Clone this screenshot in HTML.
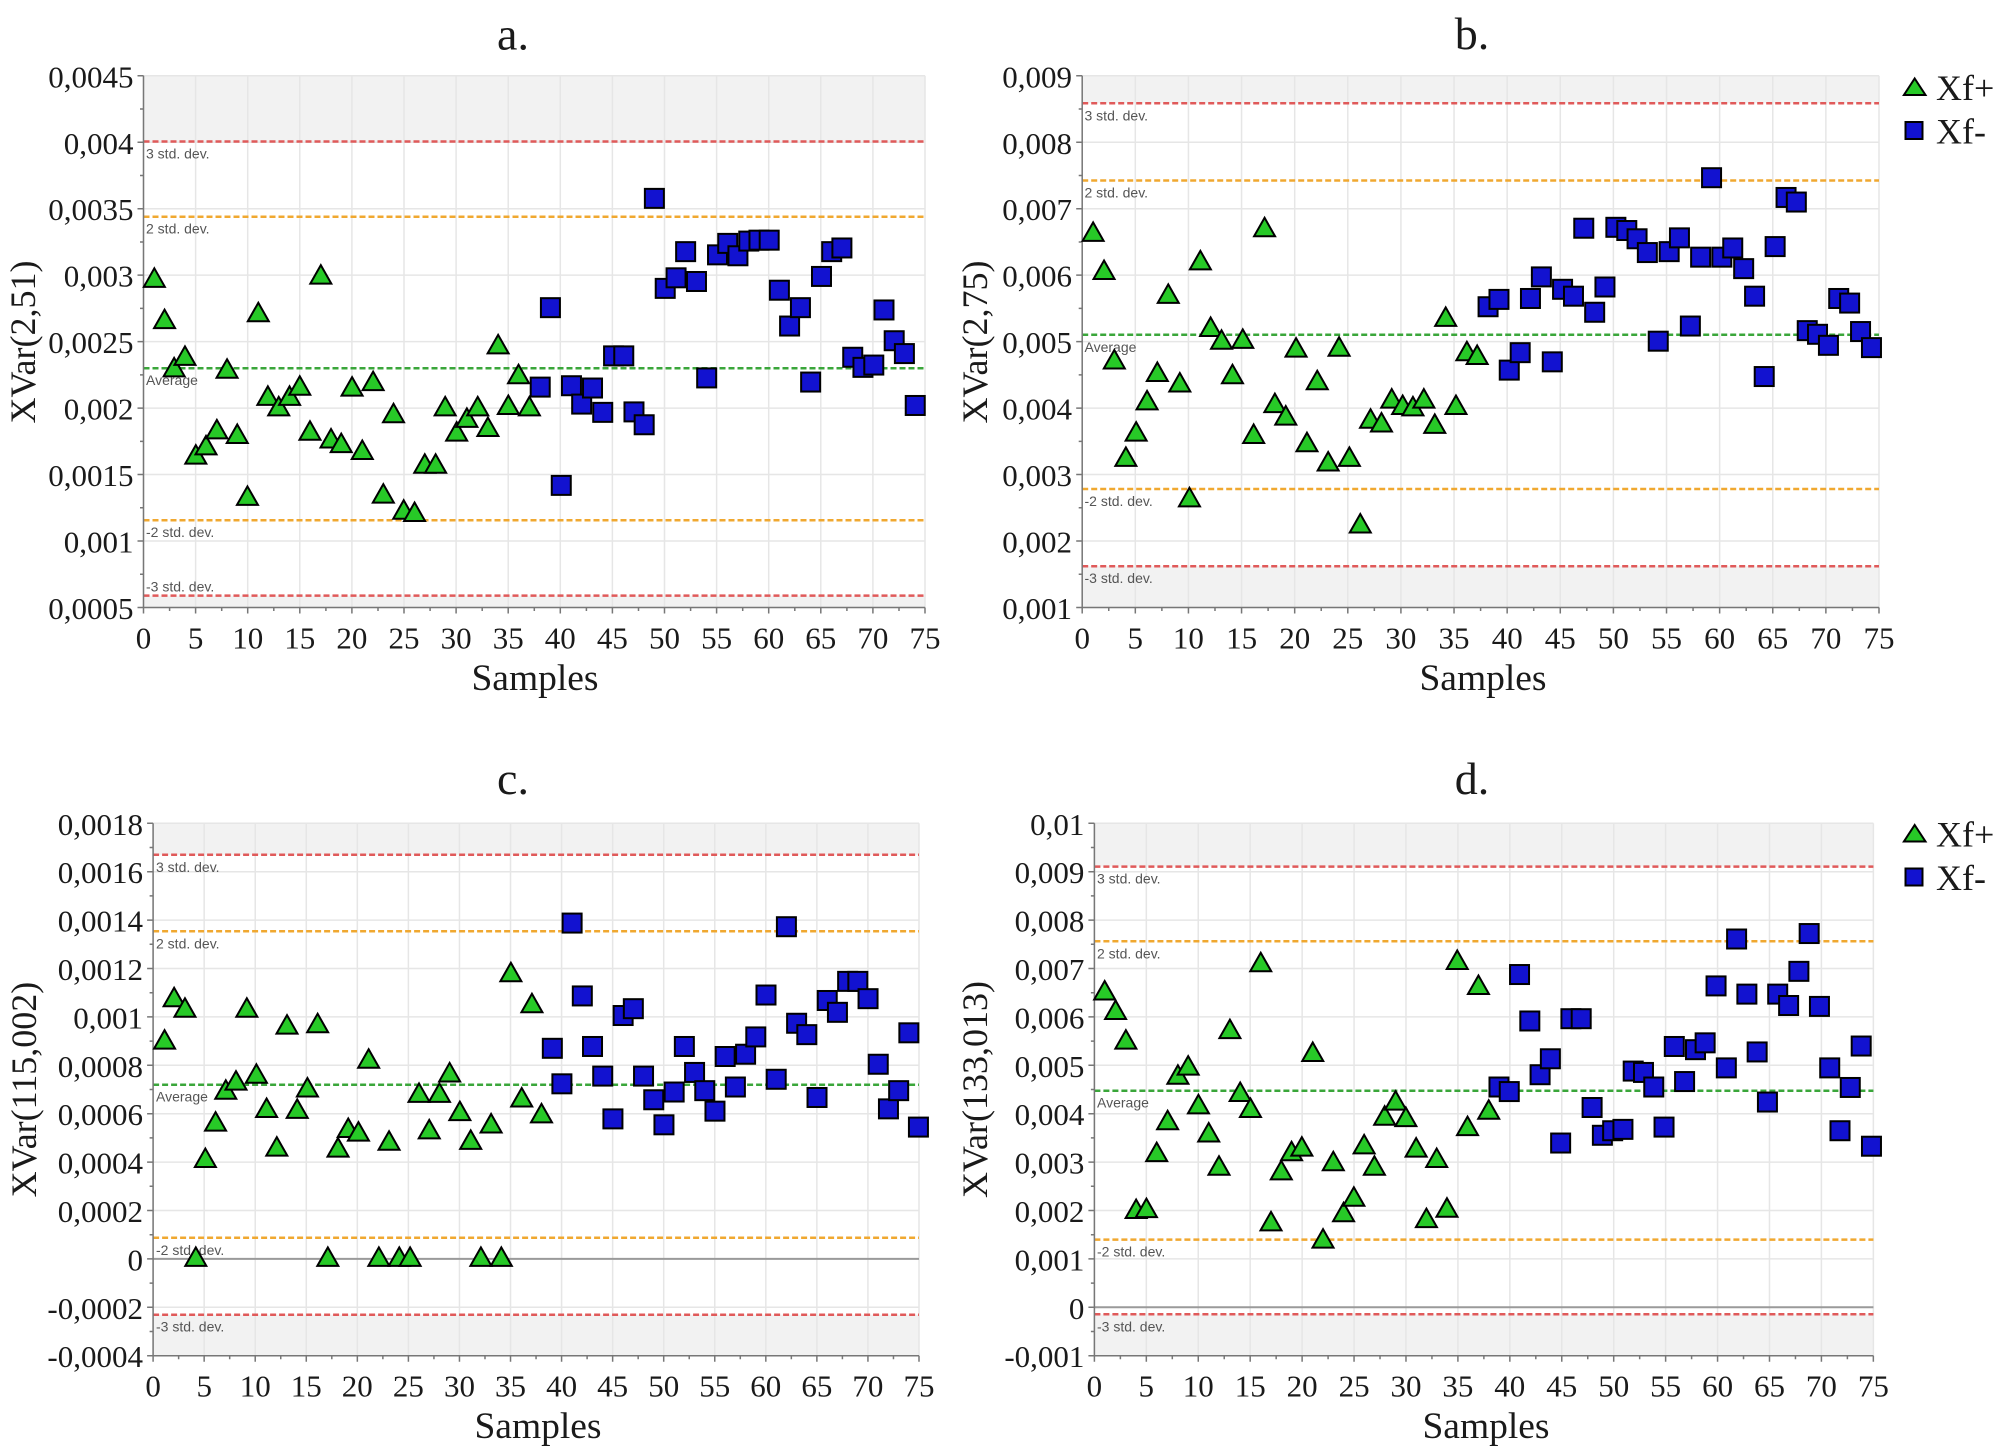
<!DOCTYPE html>
<html><head><meta charset="utf-8">
<style>
html,body{margin:0;padding:0;background:#fff;}
svg{display:block;}
.t{font-family:"Liberation Serif",serif;fill:#1a1a1a;}
.tk{font-size:31px;}
.tl{font-size:46px;}
.sm{font-size:37.5px;}
.yl{font-size:36px;}
.lg{font-size:36px;}
.sd{font-family:"Liberation Sans",sans-serif;font-size:14px;fill:#555;}
</style></head>
<body>
<svg width="2007" height="1454" viewBox="0 0 2007 1454" xmlns="http://www.w3.org/2000/svg">
<defs>
<marker id="ta" markerUnits="userSpaceOnUse" viewBox="0 0 24 24" refX="12" refY="12" markerWidth="37.63" markerHeight="52.26" preserveAspectRatio="none" overflow="visible"><path d="M12 2.5 L22.5 21 L1.5 21 Z" fill="#27c927" stroke="#000" stroke-width="2"/></marker>
<marker id="sa" markerUnits="userSpaceOnUse" viewBox="0 0 24 24" refX="12" refY="12" markerWidth="37.63" markerHeight="52.26" preserveAspectRatio="none" overflow="visible"><rect x="2.5" y="2.5" width="19" height="19" fill="#1212d0" stroke="#000" stroke-width="2"/></marker>
<marker id="tb" markerUnits="userSpaceOnUse" viewBox="0 0 24 24" refX="12" refY="12" markerWidth="37.37" markerHeight="52.26" preserveAspectRatio="none" overflow="visible"><path d="M12 2.5 L22.5 21 L1.5 21 Z" fill="#27c927" stroke="#000" stroke-width="2"/></marker>
<marker id="sb" markerUnits="userSpaceOnUse" viewBox="0 0 24 24" refX="12" refY="12" markerWidth="37.37" markerHeight="52.26" preserveAspectRatio="none" overflow="visible"><rect x="2.5" y="2.5" width="19" height="19" fill="#1212d0" stroke="#000" stroke-width="2"/></marker>
<marker id="tc" markerUnits="userSpaceOnUse" viewBox="0 0 24 24" refX="12" refY="12" markerWidth="37.63" markerHeight="52.70" preserveAspectRatio="none" overflow="visible"><path d="M12 2.5 L22.5 21 L1.5 21 Z" fill="#27c927" stroke="#000" stroke-width="2"/></marker>
<marker id="sc" markerUnits="userSpaceOnUse" viewBox="0 0 24 24" refX="12" refY="12" markerWidth="37.63" markerHeight="52.70" preserveAspectRatio="none" overflow="visible"><rect x="2.5" y="2.5" width="19" height="19" fill="#1212d0" stroke="#000" stroke-width="2"/></marker>
<marker id="td" markerUnits="userSpaceOnUse" viewBox="0 0 24 24" refX="12" refY="12" markerWidth="37.37" markerHeight="52.70" preserveAspectRatio="none" overflow="visible"><path d="M12 2.5 L22.5 21 L1.5 21 Z" fill="#27c927" stroke="#000" stroke-width="2"/></marker>
<marker id="sdm" markerUnits="userSpaceOnUse" viewBox="0 0 24 24" refX="12" refY="12" markerWidth="37.37" markerHeight="52.70" preserveAspectRatio="none" overflow="visible"><rect x="2.5" y="2.5" width="19" height="19" fill="#1212d0" stroke="#000" stroke-width="2"/></marker>
</defs>

<!-- ================= PANEL A ================= -->
<g>
<rect x="143.5" y="75.8" width="781.5" height="65.7" fill="#f2f2f2"/>
<rect x="143.5" y="595.6" width="781.5" height="11.9" fill="#f2f2f2"/>
<line x1="142.75" y1="341.65" x2="925.75" y2="341.65" stroke="#e6e6e6" stroke-width="531.7" stroke-dasharray="1.5 50.6"/>
<line x1="534.25" y1="75.05" x2="534.25" y2="608.3" stroke="#e6e6e6" stroke-width="781.5" stroke-dasharray="1.5 64.96"/>
<g stroke-width="2.5" stroke-dasharray="6 3">
<line x1="143.5" y1="141.5" x2="925" y2="141.5" stroke="#e05a5a"/>
<line x1="143.5" y1="216.7" x2="925" y2="216.7" stroke="#f0a830"/>
<line x1="143.5" y1="368.3" x2="925" y2="368.3" stroke="#3aa63a"/>
<line x1="143.5" y1="520.3" x2="925" y2="520.3" stroke="#f0a830"/>
<line x1="143.5" y1="595.6" x2="925" y2="595.6" stroke="#e05a5a"/>
</g>
<text class="sd" x="146" y="158.5">3 std. dev.</text>
<text class="sd" x="146" y="233.7">2 std. dev.</text>
<text class="sd" x="146" y="385">Average</text>
<text class="sd" x="146" y="537">-2 std. dev.</text>
<text class="sd" x="146" y="591.5">-3 std. dev.</text>
<line x1="143.5" y1="75.8" x2="143.5" y2="607.5" stroke="#777" stroke-width="1.5"/>
<line x1="143.5" y1="607.5" x2="925" y2="607.5" stroke="#777" stroke-width="1.5"/>
<line x1="142.75" y1="610.5" x2="926" y2="610.5" stroke="#777" stroke-width="6" stroke-dasharray="1.5 50.6"/>
<line x1="168.85" y1="609.25" x2="900" y2="609.25" stroke="#777" stroke-width="3.5" stroke-dasharray="1.5 50.6"/>
<line x1="140.5" y1="75.05" x2="140.5" y2="608.3" stroke="#777" stroke-width="6" stroke-dasharray="1.5 64.96"/>
<line x1="141.75" y1="108.28" x2="141.75" y2="576" stroke="#777" stroke-width="3.5" stroke-dasharray="1.5 64.96"/>
<g class="t tk" text-anchor="end">
<text x="133.5" y="87.3">0,0045</text>
<text x="133.5" y="153.8">0,004</text>
<text x="133.5" y="220.2">0,0035</text>
<text x="133.5" y="286.7">0,003</text>
<text x="133.5" y="353.1">0,0025</text>
<text x="133.5" y="419.6">0,002</text>
<text x="133.5" y="486.1">0,0015</text>
<text x="133.5" y="552.5">0,001</text>
<text x="133.5" y="619">0,0005</text>
</g>
<g class="t tk" text-anchor="middle">
<text x="143.5" y="648.3">0</text>
<text x="195.6" y="648.3">5</text>
<text x="247.7" y="648.3">10</text>
<text x="299.8" y="648.3">15</text>
<text x="351.9" y="648.3">20</text>
<text x="404" y="648.3">25</text>
<text x="456.1" y="648.3">30</text>
<text x="508.2" y="648.3">35</text>
<text x="560.3" y="648.3">40</text>
<text x="612.4" y="648.3">45</text>
<text x="664.5" y="648.3">50</text>
<text x="716.6" y="648.3">55</text>
<text x="768.7" y="648.3">60</text>
<text x="820.8" y="648.3">65</text>
<text x="872.9" y="648.3">70</text>
<text x="925" y="648.3">75</text>
</g>
<text class="t tl" x="513" y="49.6" text-anchor="middle">a.</text>
<text class="t sm" x="535" y="690" text-anchor="middle">Samples</text>
<text class="t yl" transform="translate(35,342) rotate(-90)" text-anchor="middle">XVar(2,51)</text>
<g transform="scale(0.6378,0.4592)">
<polyline fill="none" stroke="none" marker-start="url(#ta)" marker-mid="url(#ta)" marker-end="url(#ta)" points="242,605 258,695 273,800 290,775 307,990 323,970 340,935 356,803 372,945 388,1080 405,680 420,862 437,885 454,862 470,840 486,938 503,598 519,955 535,965 552,842 568,980 585,830 601,1075 617,900 633,1110 650,1115 666,1010 683,1010 698,885 716,940 732,910 749,885 765,930 781,750 797,882 813,815 830,885"/>
<polyline fill="none" stroke="none" marker-start="url(#sa)" marker-mid="url(#sa)" marker-end="url(#sa)" points="847,843 863,670 880,1057 896,840 912,880 929,845 945,898 962,775 978,775 994,897 1010,925 1026,432 1043,628 1060,605 1075,548 1092,613 1108,823 1125,555 1141,530 1157,557 1174,525 1190,523 1206,523 1222,632 1238,710 1255,670 1271,832 1288,602 1304,548 1320,540 1337,778 1353,800 1370,795 1386,675 1402,742 1418,770 1435,883"/>
</g>
</g>

<!-- ================= PANEL B ================= -->
<g>
<rect x="1082.2" y="75.8" width="796.8" height="27.5" fill="#f2f2f2"/>
<rect x="1082.2" y="566.2" width="796.8" height="41.3" fill="#f2f2f2"/>
<line x1="1081.45" y1="341.65" x2="1879.75" y2="341.65" stroke="#e6e6e6" stroke-width="531.7" stroke-dasharray="1.5 51.62"/>
<line x1="1480.6" y1="75.05" x2="1480.6" y2="608.3" stroke="#e6e6e6" stroke-width="796.8" stroke-dasharray="1.5 64.96"/>
<g stroke-width="2.5" stroke-dasharray="6 3">
<line x1="1082.2" y1="103.3" x2="1879" y2="103.3" stroke="#e05a5a"/>
<line x1="1082.2" y1="180.5" x2="1879" y2="180.5" stroke="#f0a830"/>
<line x1="1082.2" y1="334.8" x2="1879" y2="334.8" stroke="#3aa63a"/>
<line x1="1082.2" y1="489" x2="1879" y2="489" stroke="#f0a830"/>
<line x1="1082.2" y1="566.2" x2="1879" y2="566.2" stroke="#e05a5a"/>
</g>
<text class="sd" x="1084.5" y="120.3">3 std. dev.</text>
<text class="sd" x="1084.5" y="197.5">2 std. dev.</text>
<text class="sd" x="1084.5" y="351.8">Average</text>
<text class="sd" x="1084.5" y="506">-2 std. dev.</text>
<text class="sd" x="1084.5" y="583.2">-3 std. dev.</text>
<line x1="1082.2" y1="75.8" x2="1082.2" y2="607.5" stroke="#777" stroke-width="1.5"/>
<line x1="1082.2" y1="607.5" x2="1879" y2="607.5" stroke="#777" stroke-width="1.5"/>
<line x1="1081.45" y1="610.5" x2="1880" y2="610.5" stroke="#777" stroke-width="6" stroke-dasharray="1.5 51.62"/>
<line x1="1108" y1="609.25" x2="1855" y2="609.25" stroke="#777" stroke-width="3.5" stroke-dasharray="1.5 51.62"/>
<line x1="1079.2" y1="75.05" x2="1079.2" y2="608.3" stroke="#777" stroke-width="6" stroke-dasharray="1.5 64.96"/>
<line x1="1080.45" y1="108.28" x2="1080.45" y2="576" stroke="#777" stroke-width="3.5" stroke-dasharray="1.5 64.96"/>
<g class="t tk" text-anchor="end">
<text x="1072" y="87.3">0,009</text>
<text x="1072" y="153.8">0,008</text>
<text x="1072" y="220.2">0,007</text>
<text x="1072" y="286.7">0,006</text>
<text x="1072" y="353.1">0,005</text>
<text x="1072" y="419.6">0,004</text>
<text x="1072" y="486.1">0,003</text>
<text x="1072" y="552.5">0,002</text>
<text x="1072" y="619">0,001</text>
</g>
<g class="t tk" text-anchor="middle">
<text x="1082.2" y="648.3">0</text>
<text x="1135.3" y="648.3">5</text>
<text x="1188.4" y="648.3">10</text>
<text x="1241.6" y="648.3">15</text>
<text x="1294.7" y="648.3">20</text>
<text x="1347.8" y="648.3">25</text>
<text x="1400.9" y="648.3">30</text>
<text x="1454" y="648.3">35</text>
<text x="1507.2" y="648.3">40</text>
<text x="1560.3" y="648.3">45</text>
<text x="1613.4" y="648.3">50</text>
<text x="1666.5" y="648.3">55</text>
<text x="1719.6" y="648.3">60</text>
<text x="1772.8" y="648.3">65</text>
<text x="1825.9" y="648.3">70</text>
<text x="1879" y="648.3">75</text>
</g>
<text class="t tl" x="1472" y="49" text-anchor="middle">b.</text>
<text class="t sm" x="1483" y="690" text-anchor="middle">Samples</text>
<text class="t yl" transform="translate(987,342) rotate(-90)" text-anchor="middle">XVar(2,75)</text>
<polygon points="1914.7,78.5 1925.5,95 1903.9,95" fill="#27c927" stroke="#000" stroke-width="2"/>
<rect x="1905.5" y="122" width="17" height="17" fill="#1212d0" stroke="#000" stroke-width="2"/>
<text class="t lg" x="1936" y="100">Xf+</text>
<text class="t lg" x="1936" y="143.3">Xf-</text>
<g transform="translate(1000,0) scale(0.6422,0.4592)">
<polyline fill="none" stroke="none" marker-start="url(#tb)" marker-mid="url(#tb)" marker-end="url(#tb)" points="145,505 162,588 178,783 196,995 212,940 229,872 245,810 262,640 280,833 295,1083 312,567 328,712 345,740 362,815 378,738 395,945 412,495 428,878 445,905 461,757 478,963 494,828 511,1005 528,755 544,995 561,1140 577,912 594,920 610,868 627,882 643,885 660,868 677,923 694,690 710,882 727,765 743,773"/>
<polyline fill="none" stroke="none" marker-start="url(#sb)" marker-mid="url(#sb)" marker-end="url(#sb)" points="760,668 777,652 793,806 810,768 826,650 843,603 860,788 876,630 893,645 909,497 926,680 942,625 959,495 976,502 992,520 1008,550 1025,743 1042,548 1058,518 1075,710 1091,560 1108,387 1124,560 1141,540 1158,585 1175,645 1190,820 1207,537 1224,430 1240,440 1257,720 1273,728 1290,752 1306,650 1323,660 1340,722 1357,757"/>
</g>
</g>

<!-- ================= PANEL C ================= -->
<g>
<rect x="153.1" y="823.3" width="765.9" height="31.5" fill="#f2f2f2"/>
<rect x="153.1" y="1314.7" width="765.9" height="41" fill="#f2f2f2"/>
<line x1="152.35" y1="1089.5" x2="919.75" y2="1089.5" stroke="#e6e6e6" stroke-width="532.4" stroke-dasharray="1.5 49.56"/>
<line x1="536.05" y1="822.55" x2="536.05" y2="1356.5" stroke="#e6e6e6" stroke-width="765.9" stroke-dasharray="1.5 46.9"/>
<line x1="153.1" y1="1258.9" x2="919" y2="1258.9" stroke="#9a9a9a" stroke-width="2"/>
<g stroke-width="2.5" stroke-dasharray="6 3">
<line x1="153.1" y1="854.8" x2="919" y2="854.8" stroke="#e05a5a"/>
<line x1="153.1" y1="931.3" x2="919" y2="931.3" stroke="#f0a830"/>
<line x1="153.1" y1="1084.7" x2="919" y2="1084.7" stroke="#3aa63a"/>
<line x1="153.1" y1="1237.8" x2="919" y2="1237.8" stroke="#f0a830"/>
<line x1="153.1" y1="1314.7" x2="919" y2="1314.7" stroke="#e05a5a"/>
</g>
<text class="sd" x="156" y="871.8">3 std. dev.</text>
<text class="sd" x="156" y="948.3">2 std. dev.</text>
<text class="sd" x="156" y="1101.7">Average</text>
<text class="sd" x="156" y="1254.8">-2 std. dev.</text>
<text class="sd" x="156" y="1331.7">-3 std. dev.</text>
<line x1="153.1" y1="823.3" x2="153.1" y2="1355.7" stroke="#777" stroke-width="1.5"/>
<line x1="153.1" y1="1355.7" x2="919" y2="1355.7" stroke="#777" stroke-width="1.5"/>
<line x1="152.35" y1="1358.7" x2="919.8" y2="1358.7" stroke="#777" stroke-width="6" stroke-dasharray="1.5 49.56"/>
<line x1="177.88" y1="1357.45" x2="895" y2="1357.45" stroke="#777" stroke-width="3.5" stroke-dasharray="1.5 49.56"/>
<line x1="150.1" y1="822.55" x2="150.1" y2="1356.5" stroke="#777" stroke-width="6" stroke-dasharray="1.5 46.9"/>
<line x1="151.35" y1="846.75" x2="151.35" y2="1334" stroke="#777" stroke-width="3.5" stroke-dasharray="1.5 46.9"/>
<g class="t tk" text-anchor="end">
<text x="143" y="834.8">0,0018</text>
<text x="143" y="883.2">0,0016</text>
<text x="143" y="931.6">0,0014</text>
<text x="143" y="980">0,0012</text>
<text x="143" y="1028.4">0,001</text>
<text x="143" y="1076.8">0,0008</text>
<text x="143" y="1125.2">0,0006</text>
<text x="143" y="1173.6">0,0004</text>
<text x="143" y="1222">0,0002</text>
<text x="143" y="1270.4">0</text>
<text x="143" y="1318.8">-0,0002</text>
<text x="143" y="1367.2">-0,0004</text>
</g>
<g class="t tk" text-anchor="middle">
<text x="153.1" y="1396.5">0</text>
<text x="204.2" y="1396.5">5</text>
<text x="255.2" y="1396.5">10</text>
<text x="306.3" y="1396.5">15</text>
<text x="357.3" y="1396.5">20</text>
<text x="408.4" y="1396.5">25</text>
<text x="459.5" y="1396.5">30</text>
<text x="510.5" y="1396.5">35</text>
<text x="561.6" y="1396.5">40</text>
<text x="612.6" y="1396.5">45</text>
<text x="663.7" y="1396.5">50</text>
<text x="714.8" y="1396.5">55</text>
<text x="765.8" y="1396.5">60</text>
<text x="816.9" y="1396.5">65</text>
<text x="867.9" y="1396.5">70</text>
<text x="919" y="1396.5">75</text>
</g>
<text class="t tl" x="513" y="794" text-anchor="middle">c.</text>
<text class="t sm" x="538" y="1438" text-anchor="middle">Samples</text>
<text class="t yl" transform="translate(36,1089.5) rotate(-90)" text-anchor="middle">XVar(115,002)</text>
<g transform="translate(0,740) scale(0.6378,0.4554)">
<polyline fill="none" stroke="none" marker-start="url(#tc)" marker-mid="url(#tc)" marker-end="url(#tc)" points="258,658 273,565 290,588 307,1135 322,918 338,838 354,768 370,748 387,588 402,733 418,808 434,893 450,625 466,810 482,763 498,622 514,1135 530,895 546,852 562,860 578,700 594,1135 610,880 626,1135 643,1135 657,775 673,855 689,775 705,730 721,815 738,878 754,1135 770,842 786,1135 801,510 818,785 834,578 849,820"/>
<polyline fill="none" stroke="none" marker-start="url(#sc)" marker-mid="url(#sc)" marker-end="url(#sc)" points="866,677 881,755 897,402 913,562 929,673 945,738 961,832 977,605 993,590 1009,738 1025,790 1041,845 1057,773 1073,673 1089,730 1105,770 1121,815 1137,695 1153,762 1169,690 1185,652 1201,560 1217,745 1233,410 1249,622 1265,647 1281,785 1297,572 1313,598 1329,530 1345,530 1361,568 1377,712 1393,810 1409,770 1425,643 1440,850"/>
</g>
</g>

<!-- ================= PANEL D ================= -->
<g>
<rect x="1094.4" y="823.3" width="779" height="43.3" fill="#f2f2f2"/>
<rect x="1094.4" y="1314.3" width="779" height="41.4" fill="#f2f2f2"/>
<line x1="1093.65" y1="1089.5" x2="1874.2" y2="1089.5" stroke="#e6e6e6" stroke-width="532.4" stroke-dasharray="1.5 50.43"/>
<line x1="1483.9" y1="822.55" x2="1483.9" y2="1356.5" stroke="#e6e6e6" stroke-width="779" stroke-dasharray="1.5 46.9"/>
<line x1="1094.4" y1="1307.3" x2="1873.4" y2="1307.3" stroke="#9a9a9a" stroke-width="2"/>
<g stroke-width="2.5" stroke-dasharray="6 3">
<line x1="1094.4" y1="866.6" x2="1873.4" y2="866.6" stroke="#e05a5a"/>
<line x1="1094.4" y1="941.3" x2="1873.4" y2="941.3" stroke="#f0a830"/>
<line x1="1094.4" y1="1090.7" x2="1873.4" y2="1090.7" stroke="#3aa63a"/>
<line x1="1094.4" y1="1239.6" x2="1873.4" y2="1239.6" stroke="#f0a830"/>
<line x1="1094.4" y1="1314.3" x2="1873.4" y2="1314.3" stroke="#e05a5a"/>
</g>
<text class="sd" x="1097" y="883.6">3 std. dev.</text>
<text class="sd" x="1097" y="958.3">2 std. dev.</text>
<text class="sd" x="1097" y="1107.7">Average</text>
<text class="sd" x="1097" y="1256.6">-2 std. dev.</text>
<text class="sd" x="1097" y="1331.3">-3 std. dev.</text>
<line x1="1094.4" y1="823.3" x2="1094.4" y2="1355.7" stroke="#777" stroke-width="1.5"/>
<line x1="1094.4" y1="1355.7" x2="1873.4" y2="1355.7" stroke="#777" stroke-width="1.5"/>
<line x1="1093.65" y1="1358.7" x2="1874.2" y2="1358.7" stroke="#777" stroke-width="6" stroke-dasharray="1.5 50.43"/>
<line x1="1119.62" y1="1357.45" x2="1850" y2="1357.45" stroke="#777" stroke-width="3.5" stroke-dasharray="1.5 50.43"/>
<line x1="1091.4" y1="822.55" x2="1091.4" y2="1356.5" stroke="#777" stroke-width="6" stroke-dasharray="1.5 46.9"/>
<line x1="1092.65" y1="846.75" x2="1092.65" y2="1334" stroke="#777" stroke-width="3.5" stroke-dasharray="1.5 46.9"/>
<g class="t tk" text-anchor="end">
<text x="1084.4" y="834.8">0,01</text>
<text x="1084.4" y="883.2">0,009</text>
<text x="1084.4" y="931.6">0,008</text>
<text x="1084.4" y="980">0,007</text>
<text x="1084.4" y="1028.4">0,006</text>
<text x="1084.4" y="1076.8">0,005</text>
<text x="1084.4" y="1125.2">0,004</text>
<text x="1084.4" y="1173.6">0,003</text>
<text x="1084.4" y="1222">0,002</text>
<text x="1084.4" y="1270.4">0,001</text>
<text x="1084.4" y="1318.8">0</text>
<text x="1084.4" y="1367.2">-0,001</text>
</g>
<g class="t tk" text-anchor="middle">
<text x="1094.4" y="1396.5">0</text>
<text x="1146.3" y="1396.5">5</text>
<text x="1198.3" y="1396.5">10</text>
<text x="1250.2" y="1396.5">15</text>
<text x="1302.1" y="1396.5">20</text>
<text x="1354.1" y="1396.5">25</text>
<text x="1406" y="1396.5">30</text>
<text x="1457.9" y="1396.5">35</text>
<text x="1509.8" y="1396.5">40</text>
<text x="1561.8" y="1396.5">45</text>
<text x="1613.7" y="1396.5">50</text>
<text x="1665.6" y="1396.5">55</text>
<text x="1717.6" y="1396.5">60</text>
<text x="1769.5" y="1396.5">65</text>
<text x="1821.4" y="1396.5">70</text>
<text x="1873.4" y="1396.5">75</text>
</g>
<text class="t tl" x="1472" y="794" text-anchor="middle">d.</text>
<text class="t sm" x="1486" y="1438" text-anchor="middle">Samples</text>
<text class="t yl" transform="translate(987,1089.5) rotate(-90)" text-anchor="middle">XVar(133,013)</text>
<polygon points="1914.7,825 1925.5,841.5 1903.9,841.5" fill="#27c927" stroke="#000" stroke-width="2"/>
<rect x="1905.5" y="868.5" width="17" height="17" fill="#1212d0" stroke="#000" stroke-width="2"/>
<text class="t lg" x="1936" y="846.5">Xf+</text>
<text class="t lg" x="1936" y="890">Xf-</text>
<g transform="translate(1000,740) scale(0.6422,0.4554)">
<polyline fill="none" stroke="none" marker-start="url(#td)" marker-mid="url(#td)" marker-end="url(#td)" points="163,550 180,593 196,658 212,1030 228,1028 244,905 261,835 277,735 293,715 309,800 325,862 341,935 358,635 374,773 390,808 406,488 422,1057 438,945 454,903 470,893 487,685 503,1095 519,925 535,1037 551,1003 567,888 583,935 599,825 616,792 632,828 648,895 664,1050 680,918 696,1027 712,483 728,848 745,538 761,812"/>
<polyline fill="none" stroke="none" marker-start="url(#sdm)" marker-mid="url(#sdm)" marker-end="url(#sdm)" points="777,762 793,772 809,515 825,617 841,735 857,700 873,885 889,612 905,612 922,807 938,868 954,858 970,855 986,727 1002,730 1018,762 1034,850 1050,673 1066,750 1083,680 1098,665 1115,540 1131,720 1147,437 1163,558 1179,685 1195,795 1211,558 1228,583 1244,508 1260,425 1276,585 1292,720 1308,858 1324,763 1341,672 1357,892"/>
</g>
</g>
</svg>
</body></html>
